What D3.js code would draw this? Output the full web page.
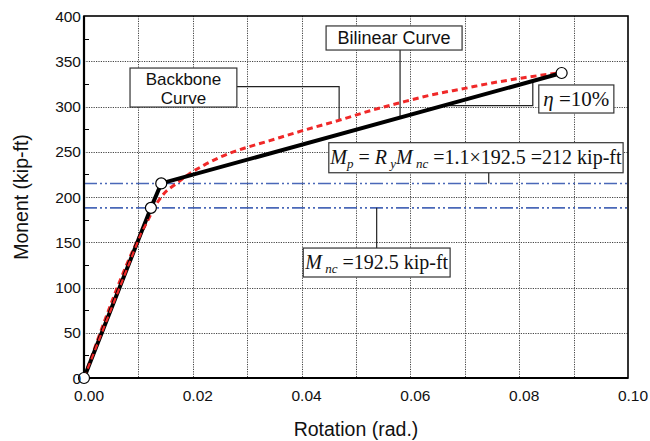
<!DOCTYPE html>
<html>
<head>
<meta charset="utf-8">
<script src="https://cdn.jsdelivr.net/npm/d3@7"></script>
<style>
  body { margin: 0; background: #fff; }
  svg { display: block; }
</style>
</head>
<body>
<svg id="chart"></svg>
<script>
const width = 650, height = 441;
const margin = { left: 84, top: 16, right: 22, bottom: 63 };

// data
const xTicks = [0, 0.02, 0.04, 0.06, 0.08, 0.10];
const xGrid = [0.01, 0.02, 0.03, 0.04, 0.05, 0.06, 0.07, 0.08, 0.09];
const yTicks = [0, 50, 100, 150, 200, 250, 300, 350, 400];
const yMinor = [25, 75, 125, 175, 225, 275, 325, 375];

const bilinearRot = [0, 0.0123, 0.0142, 0.0878];
const bilinearMom = [0, 188, 215, 337];

const backboneRot = [0, 0.0105, 0.0118, 0.0128, 0.0146, 0.017, 0.0192, 0.022, 0.025, 0.028, 0.034, 0.040, 0.047, 0.053, 0.058, 0.064, 0.070, 0.075, 0.080, 0.087];
const backboneMom = [0, 160, 175, 187, 203, 215, 225, 235, 244, 251, 262, 273, 285, 296, 304, 313, 320, 326, 331, 337];

const refLevels = [215, 188];

const svg = d3.select("#chart").attr("width", width).attr("height", height);

const x = d3.scaleLinear().domain([0, 0.10]).range([margin.left, width - margin.right]);
const y = d3.scaleLinear().domain([0, 400]).range([height - margin.bottom, margin.top]);

const x0 = x(0), x1 = x(0.10), y0 = y(0), y1 = y(400);

// grid (dotted)
const grid = svg.append("g").attr("stroke", "#444").attr("stroke-width", 1).attr("stroke-dasharray", "1.2,1.2");
grid.selectAll("line.vg").data(xGrid).enter().append("line")
  .attr("x1", d => Math.round(x(d)) + 0.5).attr("x2", d => Math.round(x(d)) + 0.5)
  .attr("y1", y1).attr("y2", y0);
grid.selectAll("line.hg").data(yTicks.filter(d => d > 0 && d < 400)).enter().append("line")
  .attr("x1", x0).attr("x2", x1)
  .attr("y1", d => Math.round(y(d)) + 0.5).attr("y2", d => Math.round(y(d)) + 0.5);

// minor y ticks
svg.append("g").selectAll("line").data(yMinor).enter().append("line")
  .attr("x1", x0).attr("x2", x0 + 5)
  .attr("y1", d => Math.round(y(d)) + 0.5).attr("y2", d => Math.round(y(d)) + 0.5)
  .attr("stroke", "#000").attr("stroke-width", 1);

// reference dash-dot lines
svg.append("g").selectAll("line").data(refLevels).enter().append("line")
  .attr("x1", x0).attr("x2", x1)
  .attr("y1", d => y(d)).attr("y2", d => y(d))
  .attr("stroke", "#4a68b8").attr("stroke-width", 1.6)
  .attr("stroke-dasharray", "13,3,2,3,2,3");

// helpers to find a curve's value at a rotation
function interpAt(rs, ms, r) {
  for (let i = 1; i < rs.length; i++) {
    if (r <= rs[i]) {
      const t = (r - rs[i - 1]) / (rs[i] - rs[i - 1]);
      return ms[i - 1] + t * (ms[i] - ms[i - 1]);
    }
  }
  return ms[ms.length - 1];
}
const bilinearAt = r => interpAt(bilinearRot, bilinearMom, r);
const backboneAt = r => interpAt(backboneRot, backboneMom, r);

const leaders = svg.append("g").attr("fill", "none").attr("stroke", "#222").attr("stroke-width", 1.2);
const line = d3.line();

// Bilinear leader
leaders.append("path").attr("d", line([[x(0.0581), y(362.4)], [x(0.0581), y(bilinearAt(0.0581))]]));
// Backbone leader
leaders.append("path").attr("d", line([[x(0.0281), y(321.9)], [x(0.0469), y(321.9)], [x(0.0469), y(backboneAt(0.0469))]]));
// slope triangle for eta
const tA = 0.066, tB = 0.0825;
leaders.append("path").attr("d", line([[x(tA), y(bilinearAt(tA))], [x(tB), y(bilinearAt(tA))], [x(tB), y(bilinearAt(tB))]]));
// Mp leader
leaders.append("path").attr("d", line([[x(0.0744), y(226.8)], [x(0.0744), y(215)]]));
// Mnc leader
leaders.append("path").attr("d", line([[x(0.0538), y(188)], [x(0.0538), y(143.6)]]));

// backbone curve (red dashed)
svg.append("path")
  .datum(backboneRot.map((r, i) => [r, backboneMom[i]]))
  .attr("fill", "none").attr("stroke", "#f02828").attr("stroke-width", 3)
  .attr("stroke-dasharray", "6,4")
  .attr("d", d3.line().x(d => x(d[0])).y(d => y(d[1])).curve(d3.curveMonotoneX));

// bilinear curve (black)
svg.append("path")
  .datum(bilinearRot.map((r, i) => [r, bilinearMom[i]]))
  .attr("fill", "none").attr("stroke", "#000").attr("stroke-width", 4)
  .attr("stroke-linejoin", "round")
  .attr("d", d3.line().x(d => x(d[0])).y(d => y(d[1])));

// red dashes drawn on top for the elastic branch
svg.append("path")
  .datum(backboneRot.slice(0, 3).map((r, i) => [r, backboneMom[i]]))
  .attr("fill", "none").attr("stroke", "#f02828").attr("stroke-width", 2.2)
  .attr("stroke-dasharray", "6,4")
  .attr("d", d3.line().x(d => x(d[0])).y(d => y(d[1])));

// frame
svg.append("rect").attr("x", x0).attr("y", y1).attr("width", x1 - x0).attr("height", y0 - y1)
  .attr("fill", "none").attr("stroke", "#000").attr("stroke-width", 1.6);
svg.append("line").attr("x1", x0).attr("x2", x1).attr("y1", y0).attr("y2", y0)
  .attr("stroke", "#000").attr("stroke-width", 2.2);
svg.append("line").attr("x1", x0).attr("x2", x0).attr("y1", y1).attr("y2", y0)
  .attr("stroke", "#000").attr("stroke-width", 2.2);

// markers
svg.append("g").selectAll("circle").data(bilinearRot).enter().append("circle")
  .attr("cx", d => x(d)).attr("cy", (d, i) => y(bilinearMom[i]))
  .attr("r", 5.5).attr("fill", "#fff").attr("stroke", "#000").attr("stroke-width", 1.2);

// tick labels
const sans = "Liberation Sans, Arial, sans-serif";
svg.append("g").selectAll("text").data(xTicks).enter().append("text")
  .attr("x", d => x(d) + 5).attr("y", y0 + 23)
  .attr("text-anchor", "middle")
  .attr("font-family", sans).attr("font-size", 15.5)
  .attr("fill", "#111")
  .text(d => d3.format(".2f")(d));
svg.append("g").selectAll("text").data(yTicks).enter().append("text")
  .attr("x", x0 - 3).attr("y", d => y(d) + 5.5)
  .attr("text-anchor", "end")
  .attr("font-family", sans).attr("font-size", 15.5)
  .attr("fill", "#111")
  .text(d => d);

// axis titles
svg.append("text").attr("x", 356).attr("y", 436).attr("text-anchor", "middle")
  .attr("font-family", sans).attr("font-size", 19.5)
  .attr("fill", "#111").text("Rotation (rad.)");
svg.append("text").attr("transform", "translate(28,197) rotate(-90)").attr("text-anchor", "middle")
  .attr("font-family", sans).attr("font-size", 19.5)
  .attr("fill", "#111").text("Monent (kip-ft)");

// annotation boxes
function box(r0, r1, m0, m1) {
  svg.append("rect")
    .attr("x", x(r0)).attr("y", y(m0)).attr("width", x(r1) - x(r0)).attr("height", y(m1) - y(m0))
    .attr("fill", "#fff").attr("stroke", "#333").attr("stroke-width", 1.2);
  return [(x(r0) + x(r1)) / 2, (y(m0) + y(m1)) / 2];
}

let c = box(0.0445, 0.0695, 389, 362.4);
svg.append("text").attr("x", c[0]).attr("y", c[1] + 6).attr("text-anchor", "middle")
  .attr("font-family", sans).attr("font-size", 18)
  .attr("fill", "#111").text("Bilinear Curve");

c = box(0.00846, 0.0281, 342.5, 299.4);
const bb = svg.append("text").attr("text-anchor", "middle")
  .attr("font-family", sans).attr("font-size", 17).attr("fill", "#111");
bb.append("tspan").attr("x", c[0]).attr("y", c[1] - 3).text("Backbone");
bb.append("tspan").attr("x", c[0]).attr("y", c[1] + 16).text("Curve");

const serif = "Liberation Serif, Times New Roman, serif";

c = box(0.0836, 0.0974, 323.8, 292.8);
const eta = svg.append("text").attr("x", c[0]).attr("y", c[1] + 7).attr("text-anchor", "middle")
  .attr("font-family", serif).attr("font-size", 21).attr("fill", "#111");
eta.append("tspan").attr("font-style", "italic").text("η");
eta.append("tspan").text(" =10%");

c = box(0.045, 0.0991, 260, 226.8);
const mp = svg.append("text").attr("x", c[0]).attr("y", c[1] + 6).attr("text-anchor", "middle")
  .attr("font-family", serif).attr("font-size", 20).attr("fill", "#111");
mp.append("tspan").attr("font-style", "italic").text("M");
mp.append("tspan").attr("font-style", "italic").attr("font-size", 13).attr("dy", 4).text("p");
mp.append("tspan").attr("dy", -4).text(" = ");
mp.append("tspan").attr("font-style", "italic").text("R");
mp.append("tspan").attr("font-style", "italic").attr("font-size", 13).attr("dy", 4).text(" y");
mp.append("tspan").attr("font-style", "italic").attr("dy", -4).text("M");
mp.append("tspan").attr("font-style", "italic").attr("font-size", 13).attr("dy", 4).text(" nc");
mp.append("tspan").attr("dy", -4).text(" =1.1×192.5 =212 kip-ft");

c = box(0.0403, 0.0673, 143.6, 111.6);
const mnc = svg.append("text").attr("x", c[0]).attr("y", c[1] + 6).attr("text-anchor", "middle")
  .attr("font-family", serif).attr("font-size", 20).attr("fill", "#111");
mnc.append("tspan").attr("font-style", "italic").text("M");
mnc.append("tspan").attr("font-style", "italic").attr("font-size", 13).attr("dy", 4).text(" nc");
mnc.append("tspan").attr("dy", -4).text(" =192.5 kip-ft");
</script>
</body>
</html>
